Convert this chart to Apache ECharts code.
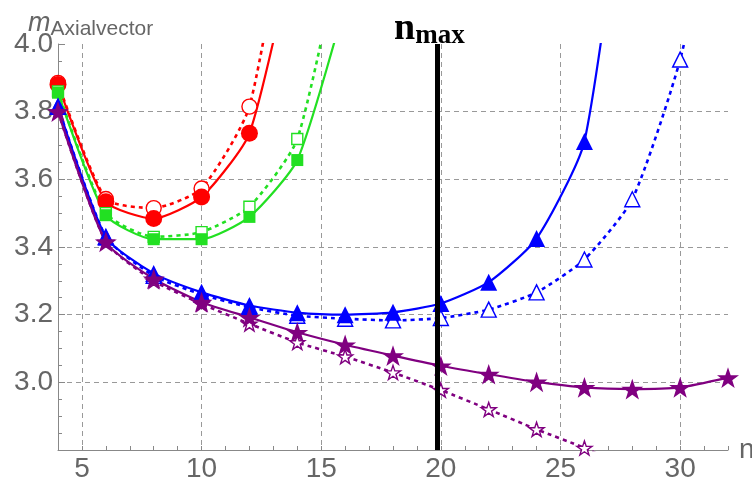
<!DOCTYPE html>
<html>
<head>
<meta charset="utf-8">
<script src="https://cdn.jsdelivr.net/npm/echarts@6/dist/echarts.min.js"></script>
<style>
  html, body { margin: 0; padding: 0; background: #fff; }
  #chart { width: 752px; height: 480px; }
</style>
</head>
<body>
<div id="chart"></div>
<script>
// n values (x axis)
const nVals = [4, 6, 8, 10, 12, 14, 16, 18, 20, 22, 24, 26, 28, 30, 32];

// masses, one array per curve (starting at n = 4)
const redSolid    = [3.88, 3.534, 3.484, 3.548, 3.736, 4.33];
const redDashed   = [3.885, 3.542, 3.515, 3.573, 3.815, 4.6];
const greenSolid  = [3.856, 3.494, 3.423, 3.423, 3.489, 3.657, 4.12];
const greenDashed = [3.86, 3.50, 3.43, 3.444, 3.519, 3.719, 4.35];
const blueSolid   = [3.815, 3.429, 3.322, 3.266, 3.227, 3.206, 3.200, 3.207, 3.233, 3.296, 3.425, 3.712, 4.7];
const blueDashed  = [3.815, 3.43, 3.315, 3.26, 3.222, 3.197, 3.188, 3.183, 3.19, 3.215, 3.266, 3.363, 3.541, 3.954, 4.6];
const purpleSolid = [3.80, 3.415, 3.306, 3.237, 3.192, 3.148, 3.111, 3.079, 3.049, 3.024, 3.0015, 2.985, 2.98, 2.985, 3.014];
const purpleDashed= [3.80, 3.415, 3.30, 3.232, 3.173, 3.118, 3.076, 3.029, 2.977, 2.92, 2.861, 2.806, 2.74];

const nMax = 19.85;
const yTicks = ['3.0', '3.2', '3.4', '3.6', '3.8', '4.0'];

const STAR = 'path://M50,0L61.8,35.1L98.5,35.1L68.8,56.8L79.4,91.1L50,70L20.6,91.1L31.2,56.8L1.5,35.1L38.2,35.1Z';

function pts(arr) {
    return arr.map(function (v, i) { return [nVals[i], v]; });
}

function curve(arr, color, dashed, symbol, size) {
    return {
        type: 'line',
        data: pts(arr),
        smooth: 0.2,
        clip: true,
        symbol: symbol,
        symbolSize: size,
        symbolKeepAspect: true,
        lineStyle: {
            color: color,
            width: dashed ? 2.6 : 2.2,
            type: dashed ? [4, 4] : 'solid'
        },
        itemStyle: dashed
            ? { color: '#ffffff', borderColor: color, borderWidth: 1.4 }
            : { color: color, borderWidth: 0 }
    };
}

const RED = '#ff0000', GREEN = '#22e022', BLUE = '#0000ff', PURPLE = '#800080';
const FONT = 'Liberation Sans, Arial, sans-serif';

const chart = echarts.init(document.getElementById('chart'));

const series = [
    curve(redDashed, RED, true, 'circle', 15),
    curve(redSolid, RED, false, 'circle', 17),
    curve(greenDashed, GREEN, true, 'rect', 11),
    curve(greenSolid, GREEN, false, 'rect', 12),
    curve(blueDashed, BLUE, true, 'triangle', 15),
    curve(blueSolid, BLUE, false, 'triangle', 17),
    curve(purpleDashed, PURPLE, true, STAR, 15),
    curve(purpleSolid, PURPLE, false, STAR, 22)
];

series[series.length - 1].markLine = {
    silent: true,
    symbol: ['none', 'none'],
    label: { show: false },
    lineStyle: { color: '#000', width: 5, type: 'solid' },
    data: [{ xAxis: nMax }]
};

const option = {
    animation: false,
    backgroundColor: '#fff',
    title: [
        {
            text: '{n|n}{s|max}',
            left: 389,
            top: 5,
            textStyle: {
                rich: {
                    n: { fontFamily: 'Liberation Serif, serif', fontWeight: 'bold', fontSize: 38, color: '#000', lineHeight: 40, verticalAlign: 'top' },
                    s: { fontFamily: 'Liberation Serif, serif', fontWeight: 'bold', fontSize: 27, color: '#000', lineHeight: 27, verticalAlign: 'bottom' }
                }
            }
        },
        {
            text: '{m|m}{s|Axialvector}',
            left: 23,
            top: 5,
            textStyle: {
                rich: {
                    m: { fontFamily: FONT, fontStyle: 'italic', fontWeight: 'normal', fontSize: 27, color: '#666', lineHeight: 30, verticalAlign: 'top' },
                    s: { fontFamily: FONT, fontWeight: 'normal', fontSize: 21, color: '#666', lineHeight: 21, verticalAlign: 'bottom' }
                }
            }
        }
    ],
    grid: { left: 58, right: 24, top: 44, bottom: 30, outerBoundsMode: 'none', containLabel: false },
    xAxis: [
        {
            type: 'value',
            min: 4,
            max: 32,
            splitNumber: 5,
            name: 'n',
            nameLocation: 'end',
            nameGap: 11,
            nameTextStyle: { fontFamily: FONT, fontSize: 28, color: '#666' },
            axisLine: { show: true, onZero: false, lineStyle: { color: '#888', width: 1 } },
            axisTick: { show: false },
            axisLabel: {
                fontFamily: FONT, fontSize: 28, color: '#666', margin: 5,
                formatter: function (v) { return v % 5 === 0 ? String(v) : ''; }
            },
            splitLine: {
                show: true, showMinLine: false, showMaxLine: false,
                lineStyle: { color: '#999', width: 1, type: [5, 4] }
            }
        },
        {
            type: 'value',
            min: 4,
            max: 32,
            interval: 1,
            position: 'bottom',
            axisLine: { show: false },
            axisTick: { show: true, inside: true, length: 4, lineStyle: { color: '#888' } },
            axisLabel: { show: false },
            splitLine: { show: false }
        }
    ],
    yAxis: {
        type: 'value',
        min: 2.8,
        max: 4.0,
        interval: 0.2,
        axisLine: { show: true, onZero: false, lineStyle: { color: '#888', width: 1 } },
        axisTick: { show: true, inside: true, length: 7, lineStyle: { color: '#888' } },
        minorTick: { show: true, splitNumber: 4, length: 4, lineStyle: { color: '#888' } },
        axisLabel: {
            fontFamily: FONT, fontSize: 28, color: '#666', margin: 5,
            formatter: function (v) {
                const s = v.toFixed(1);
                return yTicks.indexOf(s) >= 0 ? s : '';
            }
        },
        splitLine: {
            show: true, showMinLine: false, showMaxLine: false,
            lineStyle: { color: '#999', width: 1, type: [5, 4] }
        }
    },
    series: series
};

chart.setOption(option);
</script>
</body>
</html>
